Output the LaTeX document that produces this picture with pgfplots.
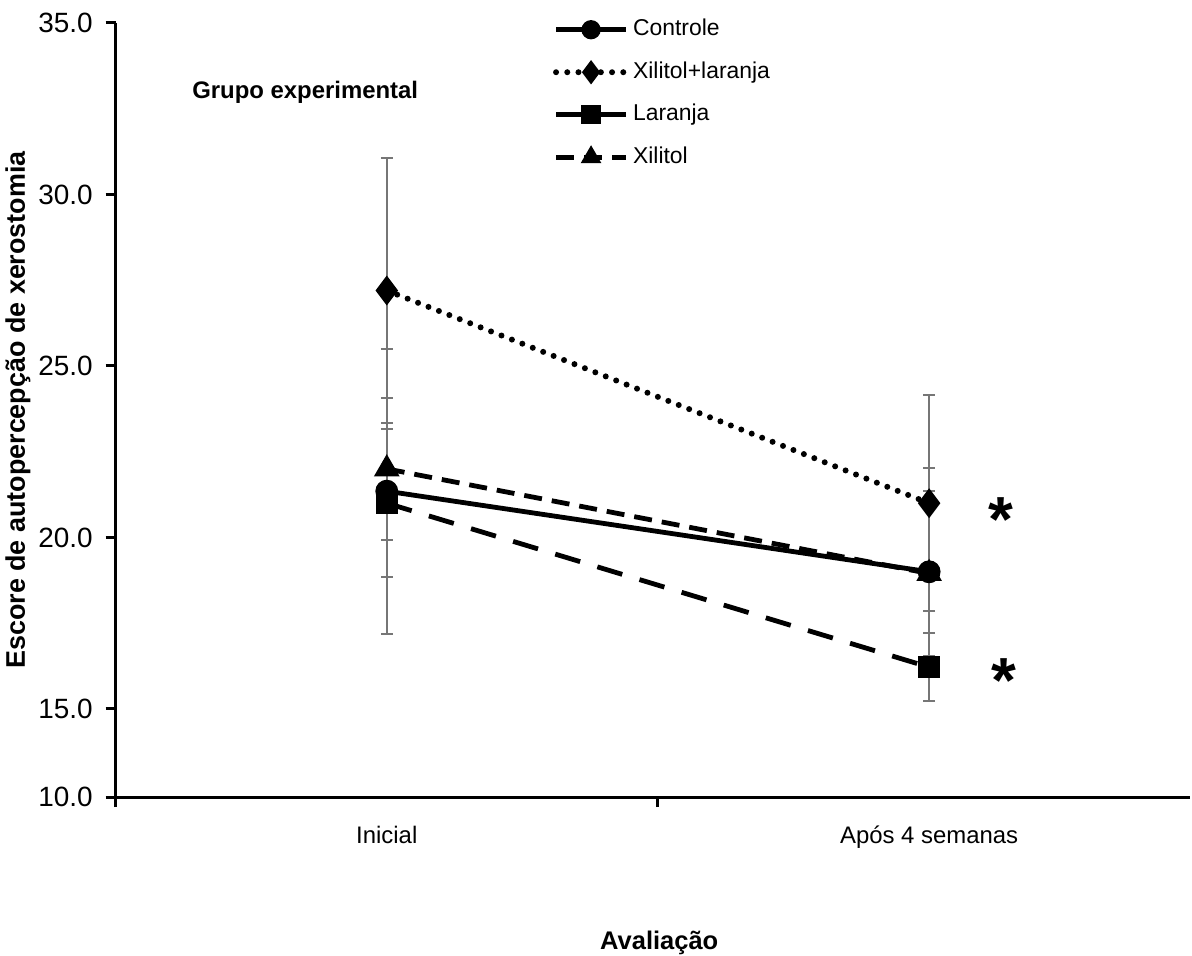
\documentclass[border=0pt]{standalone}
\usepackage{fontspec}
\setmainfont{Liberation Sans}
\usepackage{pgfplots}
\pgfplotsset{compat=1.18}
\definecolor{errgray}{RGB}{118,118,118}
\begin{document}
\begin{tikzpicture}
\begin{axis}[
  at={(0,0)}, anchor=south west,
  scale only axis,
  width=537.2bp, height=387bp,
  xmin=0.5, xmax=2.481,
  ymin=12.434, ymax=35,
  axis x line=bottom, axis y line=left,
  axis line style={-, line width=1.5bp, black},
  tick align=outside,
  major tick length=5bp,
  every tick/.style={black, line width=1.5bp},
  xtick={0.5,1.5}, xticklabels={},
  extra x ticks={1,2},
  extra x tick labels={Inicial, Após 4 semanas},
  extra x tick style={major tick length=0pt, xticklabel style={anchor=base, inner sep=0pt, yshift=-23.25bp, font=\fontsize{12}{14}\selectfont}},
  ytick={12.434,15,20,25,30,35},
  yticklabels={10.0,15.0,20.0,25.0,30.0,35.0},
  yticklabel style={anchor=east, inner sep=0pt, xshift=-6.3bp, font=\fontsize{14}{16}\selectfont},
  /pgf/number format/assume math mode=true,
  xlabel={Avaliação},
  xlabel style={at={(axis description cs:0.506,-0.189)}, anchor=center, font=\bfseries\fontsize{12.8}{14}\selectfont},
  ylabel={Escore de autopercepção de xerostomia},
  ylabel style={at={(axis description cs:-0.0908,0.5)}, anchor=center, font=\bfseries\fontsize{13.5}{15}\selectfont},
  clip=false,
  legend cell align=left,
  legend style={at={(axis description cs:0.4068,1.0112)}, anchor=north west, draw=none, fill=none,
    font=\fontsize{11.5}{13}\selectfont, inner sep=0pt, row sep=6.25bp,
    nodes={inner sep=2bp, text height=8.5bp, text depth=2.5bp}},
  legend image code/.code={\draw[mark repeat=2,mark phase=2, mark size=3.6bp] plot coordinates {(0bp,0bp) (17.5bp,0bp) (35bp,0bp)};},
  error bars/y dir=both, error bars/y explicit,
  error bars/error bar style={line width=1bp, errgray, solid},
  error bars/error mark options={rotate=90, mark size=3bp, line width=1bp, errgray, solid},
]
% Controle
\addplot[black, line width=2.4bp, mark=*, mark size=4.5bp, mark options={solid, fill=black}]
  coordinates {(1,21.35) +- (0,4.15) (2,19.0) +- (0,3.03)};
\addlegendentry{Controle}
% Xilitol+laranja
\addplot[black, line width=3bp, line cap=round, dash pattern=on 0bp off 5.6bp, mark=diamond*, mark size=5bp, mark options={solid, fill=black}]
  coordinates {(1,27.2) +- (0,3.85) (2,21.0) +- (0,3.15)};
\addlegendentry{Xilitol+laranja}
% Laranja
\addplot[black, line width=2.4bp, dash pattern=on 13bp off 9bp, mark=square*, mark size=4.2bp, mark options={solid, fill=black}]
  coordinates {(1,21.0) +- (0,2.16) (2,16.22) +- (0,1.0)};
\addlegendentry{Laranja}
% Xilitol
\addplot[black, line width=2.4bp, dash pattern=on 9bp off 5bp, mark=triangle*, mark size=5bp, mark options={solid, fill=black}]
  coordinates {(1,22.0) +- (0,2.08) (2,18.95) +- (0,2.4)};
\addlegendentry{Xilitol}
\node[anchor=west, inner sep=0pt, font=\bfseries\fontsize{12}{14}\selectfont] at (axis description cs:0.071,0.9102) {Grupo experimental};
\node[anchor=north, inner sep=0pt, font=\bfseries\fontsize{32}{32}\selectfont] at (axis cs:2.133,21.18) {*};
\node[anchor=north, inner sep=0pt, font=\bfseries\fontsize{32}{32}\selectfont] at (axis cs:2.138,16.49) {*};
\end{axis}
\pgfresetboundingbox
\path (-57.8bp,-79.5bp) rectangle (538.2bp,398.5bp);
\end{tikzpicture}
\end{document}
